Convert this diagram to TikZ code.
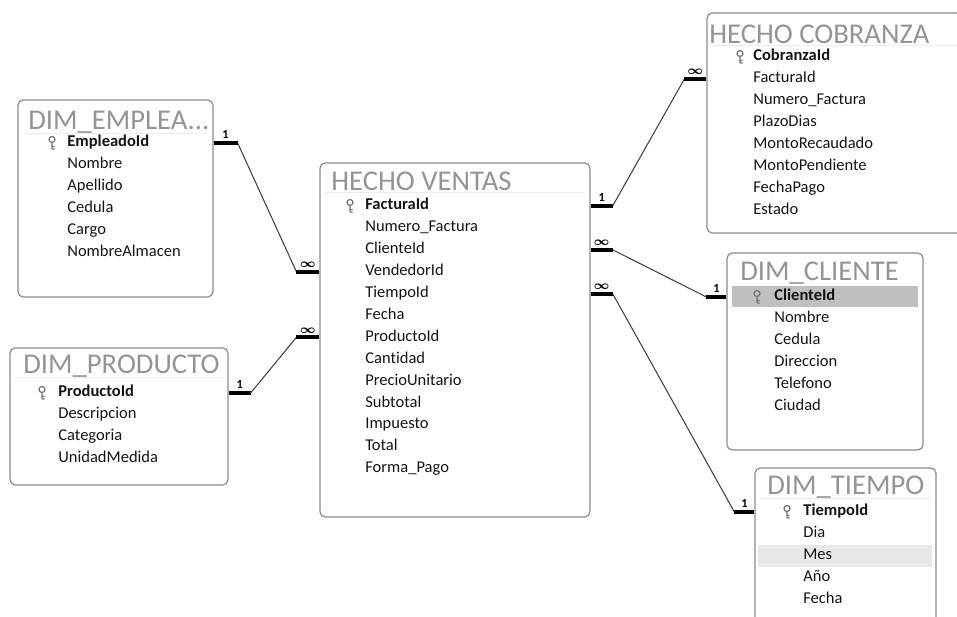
\documentclass[tikz,border=0pt]{standalone}
\usepackage{fontspec}
\setmainfont{Carlito}[Ligatures=CommonOff]
\usetikzlibrary{fit}

\tikzset{
	tabla/.style={draw=black!45,line width=0.7pt,rounded corners=3pt,inner sep=0pt},
	titulo/.style={anchor=west,inner sep=0pt,text=black!42,font=\fontsize{16.3}{16}\selectfont},
	campo/.style={anchor=west,inner sep=0pt,text height=6.5pt,text depth=2pt,text=black!92,font=\fontsize{9.4}{11}\selectfont},
	clave/.style={campo,font=\fontsize{9.4}{11}\selectfont\bfseries},
	union/.style={line width=2.2pt},
	linea/.style={line width=0.6pt,black!75},
	card/.style={anchor=south,inner sep=1.2pt,font=\fontsize{7}{7}\selectfont\bfseries\boldmath},
	llave/.pic={\draw[black!55,line width=0.7pt] (0,-3.5) circle[radius=3] (0,-0.5) -- (0,6) (0,3.5) -- (2.5,3.5) (0,6) -- (2.5,6);}
}

\begin{document}
\begin{tikzpicture}[x=0.02cm,y=-0.02cm]
	\useasboundingbox (0,0) rectangle (957,617);
	\clip (0,0) rectangle (957,617);

	% tablas
	\node[tabla,fit={(18,100) (213,297)}] (emp) {};
	\node[tabla,fit={(10,348) (228,485)}] (prod) {};
	\node[tabla,fit={(320,163) (590,517)}] (ventas) {};
	\node[tabla,fit={(707,13) (962,233)}] (cob) {};
	\node[tabla,fit={(727,253) (923,450)}] (cli) {};
	\node[tabla,fit={(755,468) (936,640)}] (tie) {};

	\fill[black!25] (732,286) rectangle (918,307);
	\fill[black!9] (758,545) rectangle (932,567);

	\draw[black!8] (24,133) -- (207,133);
	\draw[black!8] (15,377) -- (223,377);
	\draw[black!8] (325,192) -- (585,192);
	\draw[black!8] (712,45) -- (957,45);
	\draw[black!8] (760,498) -- (931,498);

	% DIM_EMPLEADO
	\node[titulo] (emp-t) at (28,122) {DIM\_EMPLEA...};
	\pic at (52,143) {llave};
	\node[clave] (emp-1) at (67,143) {EmpleadoId};
	\foreach \f [count=\i from 2] in {Nombre,Apellido,Cedula,Cargo,NombreAlmacen}
		\node[campo] (emp-\i) at (67,{143+21.9*(\i-1)}) {\f};

	% DIM_PRODUCTO
	\node[titulo] (prod-t) at (23,366) {DIM\_PRODUCTO};
	\pic at (42,393) {llave};
	\node[clave] (prod-1) at (58,393) {ProductoId};
	\foreach \f [count=\i from 2] in {Descripcion,Categoria,UnidadMedida}
		\node[campo] (prod-\i) at (58,{393+21.9*(\i-1)}) {\f};

	% HECHO VENTAS
	\node[titulo] (ventas-t) at (331,181) {HECHO VENTAS};
	\pic at (350,206) {llave};
	\node[clave] (ventas-1) at (365,206) {FacturaId};
	\foreach \f [count=\i from 2] in {Numero\_Factura,ClienteId,VendedorId,TiempoId,Fecha,ProductoId,Cantidad,PrecioUnitario,Subtotal,Impuesto,Total,Forma\_Pago}
		\node[campo] (ventas-\i) at (365,{206+21.9*(\i-1)}) {\f};

	% HECHO COBRANZA
	\node[titulo] (cob-t) at (709,34) {HECHO COBRANZA};
	\pic at (740,57) {llave};
	\node[clave] (cob-1) at (753,57) {CobranzaId};
	\foreach \f [count=\i from 2] in {FacturaId,Numero\_Factura,PlazoDias,MontoRecaudado,MontoPendiente,FechaPago,Estado}
		\node[campo] (cob-\i) at (753,{57+22*(\i-1)}) {\f};

	% DIM_CLIENTE
	\node[titulo] (cli-t) at (740,273) {DIM\_CLIENTE};
	\pic at (757,297) {llave};
	\node[clave] (cli-1) at (774,297) {ClienteId};
	\foreach \f [count=\i from 2] in {Nombre,Cedula,Direccion,Telefono,Ciudad}
		\node[campo] (cli-\i) at (774,{297+22*(\i-1)}) {\f};

	% DIM_TIEMPO
	\node[titulo] (tie-t) at (767,487) {DIM\_TIEMPO};
	\pic at (787,512) {llave};
	\node[clave] (tie-1) at (803,512) {TiempoId};
	\foreach \f [count=\i from 2] in {Dia,Mes,Año,Fecha}
		\node[campo] (tie-\i) at (803,{512+22*(\i-1)}) {\f};

	% relaciones
	\path (emp.east |- emp-1) ++(24,0) coordinate (r1a);
	\path (ventas.west |- ventas-4) ++(-23,0) coordinate (r1b);
	\draw[union] (emp.east |- emp-1) -- node[card] (l1a) {1} (r1a);
	\draw[linea] (r1a) -- (r1b);
	\draw[union] (r1b) -- node[card] (l1b) {$\infty$} (ventas.west |- ventas-4);

	\path (prod.east |- prod-1) ++(22,0) coordinate (r2a);
	\path (ventas.west |- ventas-7) ++(-23,0) coordinate (r2b);
	\draw[union] (prod.east |- prod-1) -- node[card] (l2a) {1} (r2a);
	\draw[linea] (r2a) -- (r2b);
	\draw[union] (r2b) -- node[card] (l2b) {$\infty$} (ventas.west |- ventas-7);

	\path (ventas.east |- ventas-1) ++(22,0) coordinate (r3a);
	\path (cob.west |- cob-2) ++(-22,0) coordinate (r3b);
	\draw[union] (ventas.east |- ventas-1) -- node[card] (l3a) {1} (r3a);
	\draw[linea] (r3a) -- (r3b);
	\draw[union] (r3b) -- node[card] (l3b) {$\infty$} (cob.west |- cob-2);

	\path (ventas.east |- ventas-3) ++(22,0) coordinate (r4a);
	\path (cli.west |- cli-1) ++(-20,0) coordinate (r4b);
	\draw[union] (ventas.east |- ventas-3) -- node[card] (l4a) {$\infty$} (r4a);
	\draw[linea] (r4a) -- (r4b);
	\draw[union] (r4b) -- node[card] (l4b) {1} (cli.west |- cli-1);

	\path (ventas.east |- ventas-5) ++(22,0) coordinate (r5a);
	\path (tie.west |- tie-1) ++(-20,0) coordinate (r5b);
	\draw[union] (ventas.east |- ventas-5) -- node[card] (l5a) {$\infty$} (r5a);
	\draw[linea] (r5a) -- (r5b);
	\draw[union] (r5b) -- node[card] (l5b) {1} (tie.west |- tie-1);
\end{tikzpicture}
\end{document}
